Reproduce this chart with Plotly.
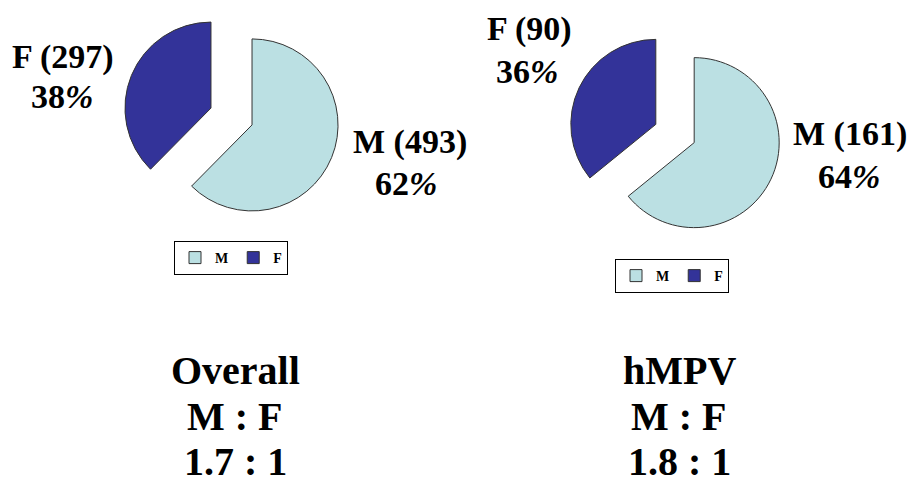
import plotly.graph_objects as go

# Sex distribution: overall cohort and hMPV-positive subset
labels = ["M", "F"]
overall_counts = [493, 297]
hmpv_counts = [161, 90]
overall_pct = ["62", "38"]
hmpv_pct = ["64", "36"]
ratio_titles = ["Overall", "hMPV"]
ratio_values = ["1.7 : 1", "1.8 : 1"]

W, H = 912, 481
colors = ["#BBE0E3", "#333399"]
serif = "Liberation Serif, Times New Roman, serif"


def px_x(x):
    return x / W


def px_y(y):
    return 1 - y / H


fig = go.Figure()

fig.add_trace(go.Pie(
    labels=labels, values=overall_counts, sort=False, direction="clockwise",
    rotation=0, pull=[0.258, 0.258], textinfo="none", hoverinfo="label+value+percent",
    marker=dict(colors=colors, line=dict(color="#333333", width=1)),
    domain=dict(x=[px_x(123.3), px_x(339.7)], y=[px_y(224.7), px_y(8.3)]),
    legend="legend", legendgroup="overall",
))
fig.add_trace(go.Pie(
    labels=labels, values=hmpv_counts, sort=False, direction="clockwise",
    rotation=0, pull=[0.25, 0.25], textinfo="none", hoverinfo="label+value+percent",
    marker=dict(colors=colors, line=dict(color="#333333", width=1)),
    domain=dict(x=[px_x(568.75), px_x(781.25)], y=[px_y(239.75), px_y(27.25)]),
    legend="legend2", legendgroup="hmpv",
))

label_font = dict(family=serif, size=34, color="black", weight="bold")
big_font = dict(family=serif, size=40, color="black", weight="bold")

annotations = []


def add_text(text, x, y, font):
    annotations.append(dict(
        text=text, x=px_x(x), y=px_y(y), xref="paper", yref="paper",
        xanchor="center", yanchor="middle", showarrow=False, font=font,
    ))


# slice labels: count on first line, percentage below
add_text(f"F ({overall_counts[1]})", 63.5, 57, label_font)
add_text(f"{overall_pct[1]}<i>%</i>", 62, 96, label_font)
add_text(f"M ({overall_counts[0]})", 410, 142, label_font)
add_text(f"{overall_pct[0]}<i>%</i>", 406, 183, label_font)
add_text(f"F ({hmpv_counts[1]})", 529, 29, label_font)
add_text(f"{hmpv_pct[1]}<i>%</i>", 527, 71, label_font)
add_text(f"M ({hmpv_counts[0]})", 850, 134, label_font)
add_text(f"{hmpv_pct[0]}<i>%</i>", 849, 176, label_font)

# sex ratio summaries under each pie
for cx, title, ratio in zip([235, 679], ratio_titles, ratio_values):
    add_text(title, cx, 370, big_font)
    add_text("M : F", cx, 416, big_font)
    add_text(ratio, cx, 461, big_font)

legend_style = dict(
    orientation="h", xanchor="center", yanchor="middle",
    bgcolor="white", bordercolor="black", borderwidth=1,
    font=dict(family=serif, size=14, color="black", weight="bold"),
    itemwidth=30, tracegroupgap=0, traceorder="normal",
)

fig.update_layout(
    width=W, height=H,
    margin=dict(l=0, r=0, t=0, b=0),
    paper_bgcolor="white", plot_bgcolor="white",
    annotations=annotations,
    legend=dict(x=px_x(231), y=px_y(258), **legend_style),
    legend2=dict(x=px_x(672), y=px_y(276), **legend_style),
)

fig.write_html("out.html")
